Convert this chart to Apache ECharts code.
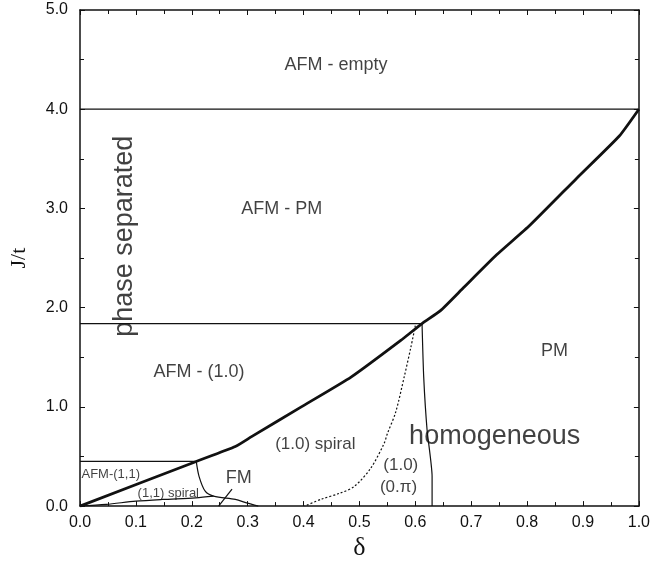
<!DOCTYPE html>
<html>
<head>
<meta charset="utf-8">
<script src="https://cdn.jsdelivr.net/npm/echarts@6/dist/echarts.min.js"></script>
<style>
  html, body { margin: 0; padding: 0; background: #fff; }
  #main { width: 653px; height: 566px; }
</style>
</head>
<body>
<div id="main"></div>
<script>
// phase boundaries, [delta, J/t]
var mainBoundary = [[0, 0], [0.208, 0.45], [0.278, 0.60], [0.307, 0.70], [0.396, 1.0], [0.485, 1.30],
  [0.574, 1.67], [0.612, 1.84], [0.645, 1.97], [0.686, 2.2], [0.745, 2.53], [0.805, 2.83],
  [0.888, 3.30], [0.965, 3.73], [1.0, 4.0]];
var emptyLine = [[0, 4.0], [1.0, 4.0]];
var afm10Line = [[0, 1.84], [0.612, 1.84]];
var afm11Line = [[0, 0.45], [0.208, 0.45]];
var homogeneousEdge = [[0.612, 1.84], [0.615, 1.3], [0.621, 0.77], [0.63, 0.3], [0.63, 0]];
var zeroPiEdge = [[0.60, 1.82], [0.592, 1.6], [0.58, 1.3], [0.565, 0.95], [0.55, 0.73], [0.544, 0.63],
  [0.52, 0.38], [0.491, 0.2], [0.465, 0.13], [0.432, 0.07], [0.402, 0]];
var fmUpper = [[0.208, 0.45], [0.213, 0.30], [0.224, 0.15], [0.239, 0.10], [0.278, 0.067],
  [0.298, 0.033], [0.319, 0]];
var spiralLower = [[0, 0], [0.047, 0.017], [0.1, 0.05], [0.147, 0.067], [0.207, 0.083], [0.239, 0.10]];
var fmPointer = [[0.248, 0], [0.272, 0.17]];

// region names: text, delta, J/t, font size, rotation
var regionLabels = [
  ['AFM - empty', 0.458, 4.45, 18, 0],
  ['AFM - PM', 0.361, 2.99, 18, 0],
  ['phase separated', 0.080, 2.72, 27, 90],
  ['AFM - (1.0)', 0.213, 1.35, 18, 0],
  ['PM', 0.849, 1.56, 18, 0],
  ['homogeneous', 0.742, 0.70, 27, 0],
  ['(1.0) spiral', 0.421, 0.62, 17, 0],
  ['(1.0)', 0.574, 0.41, 17, 0],
  ['(0.\u03c0)', 0.570, 0.19, 17, 0],
  ['AFM-(1,1)', 0.055, 0.32, 13, 0],
  ['(1,1) spiral', 0.158, 0.13, 13, 0],
  ['FM', 0.284, 0.28, 18, 0]
];

var ink = '#111';
var sans = 'Liberation Sans, Arial, sans-serif';
var serif = 'Liberation Serif, Times New Roman, serif';

function curve(data, width, type, smooth) {
  return {
    type: 'line', data: data, showSymbol: false, symbol: 'none', silent: true,
    smooth: smooth || false,
    lineStyle: { color: ink, width: width, type: type || 'solid' }
  };
}

function axisBase(extra) {
  var a = {
    type: 'value',
    axisLine: { show: true, onZero: false, lineStyle: { color: ink, width: 1.5 } },
    axisTick: { show: true, inside: true, length: 5, lineStyle: { color: ink, width: 1 } },
    minorTick: { show: true, splitNumber: 2, length: 4, lineStyle: { color: ink, width: 1 } },
    splitLine: { show: false },
    axisLabel: { color: ink, fontFamily: sans, fontSize: 16, formatter: function (v) { return v.toFixed(1); } }
  };
  for (var k in extra) a[k] = extra[k];
  return a;
}

var chart = echarts.init(document.getElementById('main'));

var series = [
  curve(emptyLine, 1.2),
  curve(afm10Line, 1.2),
  curve(afm11Line, 1.2),
  curve(homogeneousEdge, 1.2, 'solid', 0.2),
  curve(zeroPiEdge, 1.2, [2, 2], 0.3),
  curve(fmUpper, 1.2, 'solid', 0.3),
  curve(spiralLower, 1.2, 'solid', 0.3),
  curve(fmPointer, 1.2),
  curve(mainBoundary, 2.8, 'solid', 0.15),
  {
    type: 'scatter', symbolSize: 0, silent: true,
    data: regionLabels.map(function (r) {
      return {
        value: [r[1], r[2]],
        label: {
          show: true, position: 'inside', formatter: r[0], rotate: r[4],
          color: ink, fontFamily: sans, fontSize: r[3]
        }
      };
    })
  }
];

chart.setOption({
  backgroundColor: '#fff',
  animation: false,
  grid: { left: 77, right: 13, top: 10, bottom: 56 },
  xAxis: [
    axisBase({
      min: 0, max: 1, interval: 0.1, position: 'bottom',
      name: '\u03b4', nameLocation: 'middle', nameGap: 15,
      nameTextStyle: { color: ink, fontFamily: serif, fontSize: 26 },
      axisLabel: { color: ink, fontFamily: sans, fontSize: 16, margin: 8,
        formatter: function (v) { return v.toFixed(1); } }
    }),
    axisBase({ min: 0, max: 1, interval: 0.1, position: 'top', axisLabel: { show: false } })
  ],
  yAxis: [
    axisBase({
      min: 0, max: 5, interval: 1, position: 'left',
      name: 'J/t', nameLocation: 'middle', nameGap: 50, nameRotate: 90,
      nameTextStyle: { color: ink, fontFamily: serif, fontSize: 22 },
      axisLabel: { color: ink, fontFamily: sans, fontSize: 16, margin: 12,
        formatter: function (v) { return v.toFixed(1); } }
    }),
    axisBase({ min: 0, max: 5, interval: 1, position: 'right', axisLabel: { show: false } })
  ],
  series: series
});
</script>
</body>
</html>
